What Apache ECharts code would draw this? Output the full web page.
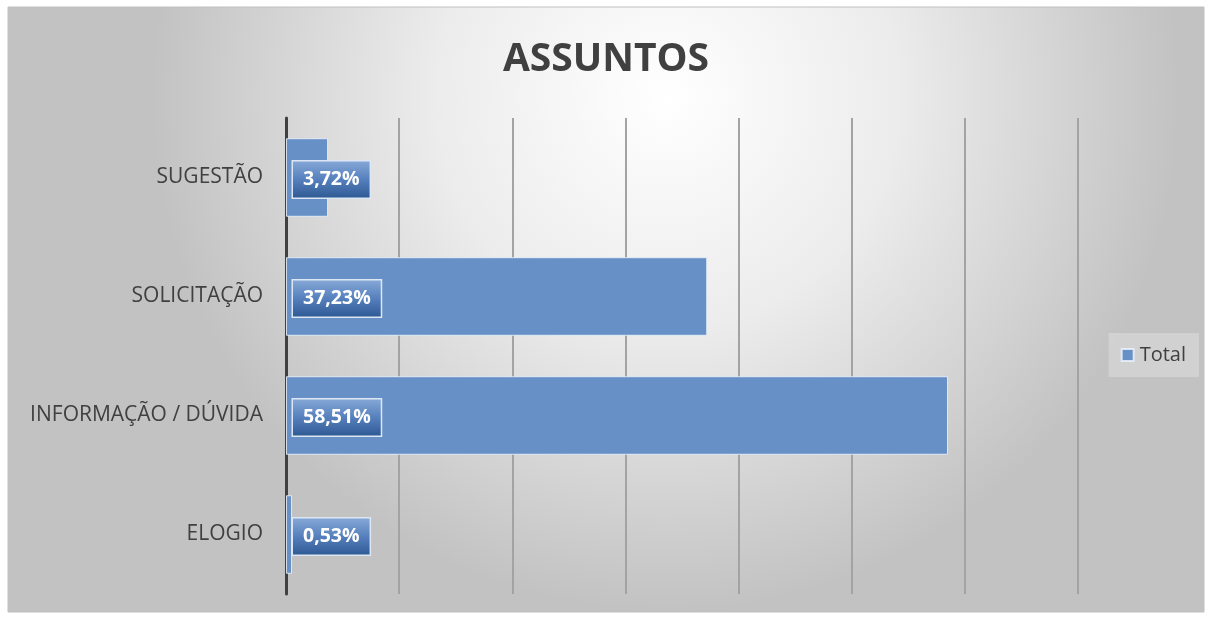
<!DOCTYPE html>
<html>
<head>
<meta charset="utf-8">
<script src="https://cdn.jsdelivr.net/npm/echarts@6/dist/echarts.min.js"></script>
<style>
html,body{margin:0;padding:0;background:#fff;}
#chart{width:1212px;height:618px;}
</style>
</head>
<body>
<div id="chart"></div>
<script>
const categories = ['ELOGIO', 'INFORMAÇÃO / DÚVIDA', 'SOLICITAÇÃO', 'SUGESTÃO'];
const totalValues = [0.0053, 0.5851, 0.3723, 0.0372];
const seriesName = 'Total';
const titleText = 'ASSUNTOS';

const chart = echarts.init(document.getElementById('chart'), null, {renderer: 'canvas'});
const font = '"Open Sans", "Noto Sans", sans-serif';

const option = {
  backgroundColor: '#ffffff',
  animation: false,
  graphic: [{
    type: 'rect',
    z: -10,
    silent: true,
    shape: {x: 8, y: 7, width: 1196, height: 605},
    style: {
      fill: new echarts.graphic.RadialGradient(0.55, 0.15, 0.85, [
        {offset: 0, color: '#ffffff'},
        {offset: 0.45, color: '#ececec'},
        {offset: 1, color: '#c2c2c2'}
      ]),
      stroke: '#c0c0c0',
      lineWidth: 1
    }
  }],
  title: {
    text: titleText,
    left: 'center',
    top: 35,
    textStyle: {fontFamily: font, fontWeight: 'bold', fontSize: 39, color: '#404040'}
  },
  legend: {
    data: [seriesName],
    orient: 'vertical',
    right: 13,
    top: 333,
    padding: [12, 13, 12, 12],
    backgroundColor: 'rgba(255,255,255,0.25)',
    itemWidth: 12,
    itemHeight: 12,
    icon: 'rect',
    itemGap: 6,
    textStyle: {fontFamily: font, fontSize: 20, color: '#404040', padding: [0, 0, 0, 1]}
  },
  grid: {left: 286, right: 134, top: 118, bottom: 24, containLabel: false},
  xAxis: {
    type: 'value',
    min: 0,
    max: 0.7,
    interval: 0.1,
    axisLabel: {show: false},
    axisTick: {show: false},
    axisLine: {show: false},
    splitLine: {show: true, lineStyle: {color: '#a3a3a3', width: 2}}
  },
  yAxis: {
    type: 'category',
    data: categories,
    axisTick: {show: false},
    axisLine: {show: true, lineStyle: {color: '#404040', width: 3}},
    axisLabel: {fontFamily: font, fontSize: 21, color: '#404040', margin: 23, padding: [4, 0, 0, 0]}
  },
  series: [{
    name: seriesName,
    type: 'bar',
    data: totalValues,
    barCategoryGap: '34%',
    itemStyle: {color: '#6791c6', borderColor: 'rgba(235,242,250,0.85)', borderWidth: 1},
    label: {
      show: true,
      position: 'insideLeft',
      distance: 7,
      offset: [0, 2],
      formatter: p => (p.value * 100).toFixed(2).replace('.', ',') + '%',
      fontFamily: font,
      fontWeight: 'bold',
      fontSize: 19.5,
      color: '#ffffff',
      padding: [8, 10, 8, 10],
      borderColor: '#dde7f3',
      borderWidth: 1.5,
      backgroundColor: new echarts.graphic.LinearGradient(0, 0, 0, 1, [
        {offset: 0, color: '#88aad8'},
        {offset: 0.5, color: '#5680bd'},
        {offset: 1, color: '#2c5892'}
      ])
    }
  }]
};
chart.setOption(option);
</script>
</body>
</html>
